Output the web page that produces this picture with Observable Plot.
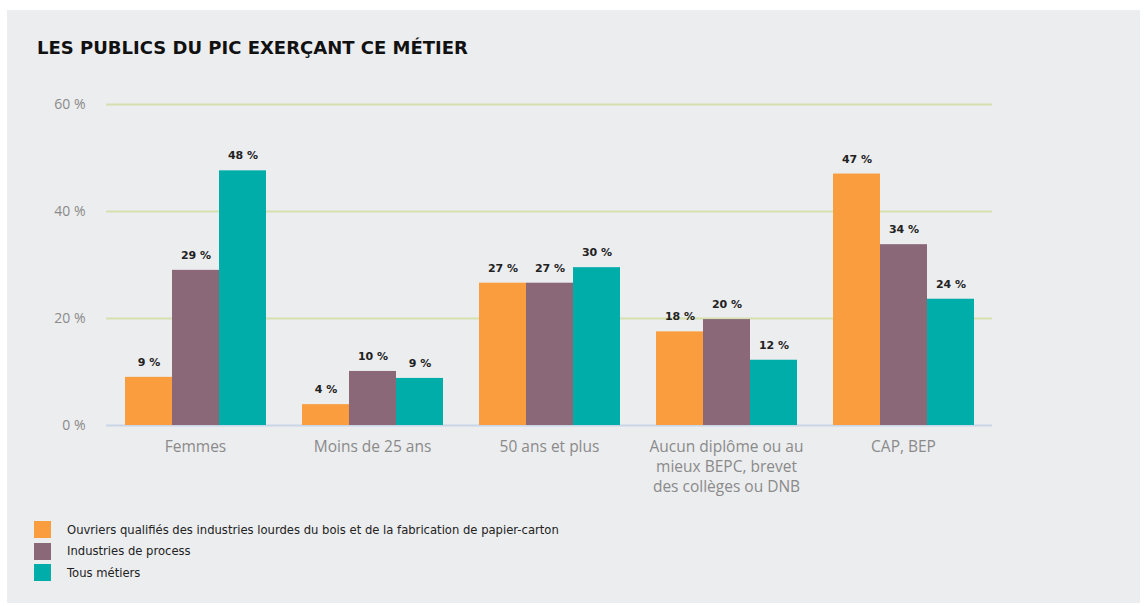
<!DOCTYPE html>
<html>
<head>
<meta charset="utf-8">
<script src="https://cdn.jsdelivr.net/npm/d3@7"></script>
<script src="https://cdn.jsdelivr.net/npm/@observablehq/plot@0.6"></script>
<style>
  html, body { margin: 0; padding: 0; background: #ffffff; width: 1145px; height: 606px; overflow: hidden; }
  #panel { position: absolute; left: 7px; top: 10px; width: 1133px; height: 593px; background: #ECEDEF; }
  #title { position: absolute; left: 37px; top: 37px; font-family: "DejaVu Sans", sans-serif; font-weight: bold; font-size: 18px; color: #111; letter-spacing: 0px; }
  .layer { position: absolute; left: 0; top: 90px; }
  #legend { position: absolute; left: 34px; top: 519px; font-family: "DejaVu Sans", sans-serif; font-size: 11.6px; color: #222; }
  .item { display: flex; align-items: center; height: 21.5px; }
  .sw { width: 17px; height: 17px; margin-right: 16px; }
</style>
</head>
<body>
<div id="panel"></div>
<div id="title">LES PUBLICS DU PIC EXERÇANT CE MÉTIER</div>
<div id="grid" class="layer"></div>
<div id="chart" class="layer"></div>
<div id="legend"></div>
<script>
const categories = ["Femmes", "Moins de 25 ans", "50 ans et plus", "Aucun diplôme ou au\nmieux BEPC, brevet\ndes collèges ou DNB", "CAP, BEP"];
const series = ["Ouvriers qualifiés des industries lourdes du bois et de la fabrication de papier-carton", "Industries de process", "Tous métiers"];
const colors = ["#F99D3E", "#8B6878", "#00ADA9"];
const ouvriers = [9.0, 3.9, 26.6, 17.5, 47.0];
const process = [29.0, 10.1, 26.6, 19.8, 33.8];
const tous = [47.6, 8.8, 29.5, 12.2, 23.6];
const yTicks = [0, 20, 40, 60];

const values = [ouvriers, process, tous];
const data = [];
categories.forEach((c, i) => series.forEach((s, j) => data.push({cat: c, serie: s, value: values[j][i]})));

const common = {
  width: 1145,
  height: 415,
  marginTop: 14,
  marginBottom: 80,
  marginLeft: 106,
  marginRight: 153,
  style: {fontFamily: "'Open Sans', sans-serif", background: "transparent"},
  y: {domain: [0, 60], axis: null}
};

// Background layer: gridlines, baseline and y axis (not faceted)
const grid = Plot.plot({
  ...common,
  marks: [
    Plot.ruleY(yTicks.filter(d => d > 0), {stroke: "#D5DFAF", strokeWidth: 2}),
    Plot.ruleY([0], {stroke: "#C8D6E6", strokeWidth: 2}),
    Plot.axisY(yTicks, {tickSize: 0, tickPadding: 21, tickFormat: d => d + " %", fontSize: 14, fill: "#8a8a8a", label: null})
  ]
});
document.getElementById("grid").appendChild(grid);

// Foreground layer: grouped bars
const chart = Plot.plot({
  ...common,
  fx: {domain: categories, paddingInner: 0.2, paddingOuter: 0.1, label: null},
  x: {domain: series, padding: 0, axis: null},
  color: {domain: series, range: colors},
  marks: [
    Plot.barY(data, {fx: "cat", x: "serie", y: "value", fill: "serie"}),
    Plot.text(data, {fx: "cat", x: "serie", y: "value", text: d => Math.round(d.value) + " %", dy: -15, fontWeight: "bold", fontSize: 11, fill: "#222", fontFamily: "'DejaVu Sans', sans-serif"}),
    Plot.axisFx({anchor: "bottom", tickSize: 0, tickPadding: 12, fontSize: 15.5, fill: "#8a8a8a", lineHeight: 1.3, label: null, textAnchor: "middle"})
  ]
});
document.getElementById("chart").appendChild(chart);

const legend = document.getElementById("legend");
series.forEach((s, i) => {
  const row = document.createElement("div");
  row.className = "item";
  const sw = document.createElement("div");
  sw.className = "sw";
  sw.style.background = colors[i];
  const t = document.createElement("span");
  t.textContent = s;
  row.appendChild(sw);
  row.appendChild(t);
  legend.appendChild(row);
});
</script>
</body>
</html>
